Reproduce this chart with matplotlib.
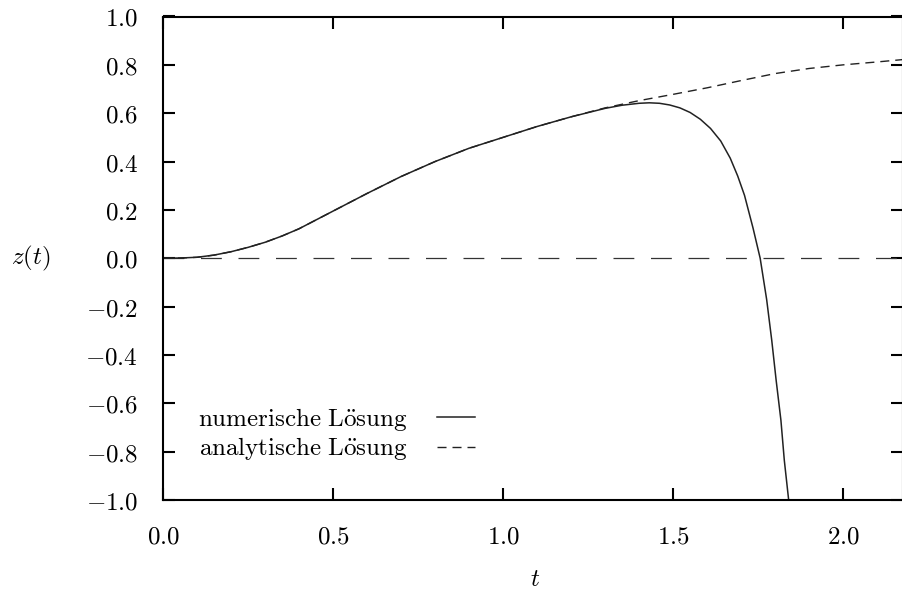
import numpy as np
import matplotlib
matplotlib.use("Agg")
import matplotlib.pyplot as plt
from matplotlib.ticker import FuncFormatter, MultipleLocator

# data
t_ana = [0.0, 0.05, 0.1, 0.15, 0.2, 0.25, 0.3, 0.35, 0.4, 0.5, 0.6, 0.7, 0.8,
         0.9, 1.0, 1.1, 1.2, 1.3, 1.4, 1.5, 1.6, 1.7, 1.8, 1.9, 2.0, 2.1, 2.2]
z_ana = [0.0, 0.001, 0.004, 0.013, 0.027, 0.045, 0.066, 0.092, 0.122, 0.195,
         0.268, 0.338, 0.400, 0.455, 0.500, 0.545, 0.585, 0.622, 0.652, 0.678,
         0.705, 0.735, 0.764, 0.785, 0.800, 0.812, 0.825]

t_num = [0.0, 0.05, 0.1, 0.15, 0.2, 0.25, 0.3, 0.35, 0.4, 0.5, 0.6, 0.7, 0.8,
         0.9, 1.0, 1.1, 1.2, 1.3, 1.35, 1.4, 1.43, 1.46, 1.49, 1.52, 1.55,
         1.58, 1.61, 1.64, 1.668, 1.69, 1.71, 1.735, 1.756, 1.775, 1.79,
         1.803, 1.817, 1.827, 1.839, 1.845]
z_num = [0.0, 0.001, 0.004, 0.013, 0.027, 0.045, 0.066, 0.092, 0.122, 0.195,
         0.268, 0.338, 0.400, 0.455, 0.500, 0.545, 0.585, 0.620, 0.633, 0.641,
         0.643, 0.641, 0.634, 0.622, 0.603, 0.575, 0.537, 0.485, 0.414, 0.340,
         0.260, 0.125, 0.0, -0.170, -0.339, -0.505, -0.670, -0.836, -0.990,
         -1.06]

labels = [r"$\mathrm{numerische\ L\ddot{o}sung}$",
          r"$\mathrm{analytische\ L\ddot{o}sung}$"]

plt.rcParams["mathtext.fontset"] = "cm"
plt.rcParams["lines.scale_dashes"] = False

fig = plt.figure(figsize=(9.03, 5.90), dpi=100)
ax = fig.add_axes([163 / 903, 90 / 590, 740 / 903, 483.5 / 590])

ax.axhline(0.0, color="#333333", lw=0.9, dashes=(15, 12))
ax.plot(t_num, z_num, color="#222222", lw=1.1, label=labels[0])
ax.plot(t_ana, z_ana, color="#222222", lw=1.0, dashes=(6.5, 4.3),
        label=labels[1])

ax.set_xlim(0, 2.176)
ax.set_ylim(-1.0, 1.0)
ax.xaxis.set_major_locator(MultipleLocator(0.5))
ax.yaxis.set_major_locator(MultipleLocator(0.2))
fmt = FuncFormatter(lambda v, p: "$%.1f$" % v)
ax.xaxis.set_major_formatter(fmt)
ax.yaxis.set_major_formatter(fmt)
ax.tick_params(direction="in", length=8.6, width=1.5, labelsize=18,
               top=True, right=True, pad=18)
for s in ax.spines.values():
    s.set_linewidth(1.5)

ax.set_ylabel("$z(t)$", fontsize=18, rotation=0, ha="center", va="center")
ax.yaxis.set_label_coords(-0.178, 0.5)
ax.set_xlabel("$t$", fontsize=18, va="center")
ax.xaxis.set_label_coords(0.503, -0.163)

ax.legend(loc="lower left", bbox_to_anchor=(0.047, 0.078), frameon=False,
          markerfirst=False, fontsize=18, handlelength=1.5,
          handletextpad=1.2, labelspacing=0.1, borderpad=0, borderaxespad=0)

fig.savefig("out.png", dpi=100)
